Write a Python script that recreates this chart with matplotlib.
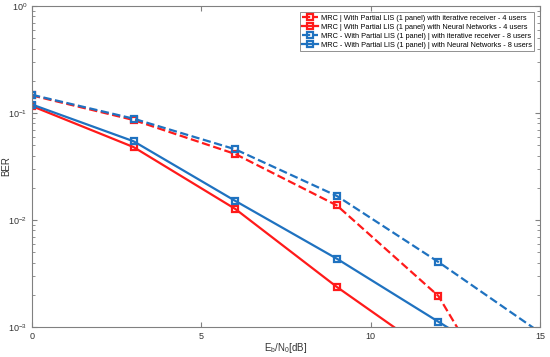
import matplotlib
matplotlib.use("Agg")
import matplotlib.pyplot as plt
from matplotlib.ticker import LogLocator, FixedLocator

plt.rcParams['font.family'] = ['Liberation Sans', 'DejaVu Sans']

# Eb/N0 points (dB)
snr = [0, 3, 6, 9, 12, 15]

# BER curves
ber_iter_4 = [0.146, 0.086, 0.0414, 0.0137, 0.00195, 0.00005]
ber_nn_4 = [0.116, 0.048, 0.0127, 0.00237, 0.00051, 0.00011]
ber_iter_8 = [0.148, 0.0885, 0.0458, 0.0168, 0.00405, 0.00089]
ber_nn_8 = [0.120, 0.0544, 0.0151, 0.00435, 0.00112, 0.00029]

labels = [
    "MRC | With Partial LIS (1 panel) with iterative receiver - 4 users",
    "MRC | With Partial LIS (1 panel) with Neural Networks - 4 users",
    "MRC - With Partial LIS (1 panel) | with iterative receiver - 8 users",
    "MRC - With Partial LIS (1 panel) | with Neural Networks - 8 users",
]

RED = "#FF1A1A"
BLUE = "#1F72C0"

fig = plt.figure(figsize=(5.5, 3.57), dpi=100)
ax = fig.add_axes([32 / 550, 30 / 357, 508 / 550, 321 / 357])

style = dict(marker="s", markersize=4.2, markerfacecolor="none", markeredgewidth=1.6, linewidth=1.6)
ax.semilogy(snr, ber_iter_4, "--", color=RED, label=labels[0], **style)
ax.semilogy(snr, ber_nn_4, "-", color=RED, label=labels[1], **style)
ax.semilogy(snr, ber_iter_8, "--", color=BLUE, label=labels[2], **style)
ax.semilogy(snr, ber_nn_8, "-", color=BLUE, label=labels[3], **style)

ax.set_xlim(0, 15)
ax.set_ylim(1e-3, 1e0)
ax.xaxis.set_major_locator(FixedLocator([0, 5, 10, 15]))
ax.yaxis.set_major_locator(LogLocator(base=10, numticks=10))
ax.yaxis.set_minor_locator(LogLocator(base=10, subs=range(2, 10), numticks=10))

for s in ax.spines.values():
    s.set_color("#808080")
    s.set_linewidth(0.8)
ax.tick_params(which="both", direction="in", top=True, right=True, colors="#808080",
               labelcolor="#333333", labelsize=6.5)
ax.tick_params(which="major", length=3.5)
ax.tick_params(which="minor", length=2)

ax.set_xlabel(r"E$_\mathregular{b}$/N$_\mathregular{0}$[dB]", fontsize=7, color="#333333")
ax.xaxis.set_label_coords(0.5, -0.045)
ax.set_ylabel("BER", fontsize=7, color="#333333")
ax.yaxis.set_label_coords(-0.04, 0.5)

leg = ax.legend(loc="upper right", fontsize=5.3, handlelength=2.2, borderpad=0.35,
                labelspacing=0.25, handletextpad=0.3, fancybox=False, framealpha=1,
                borderaxespad=0.8)
leg.get_frame().set_edgecolor("#808080")
leg.get_frame().set_linewidth(0.6)

fig.savefig("out.png", dpi=100)
